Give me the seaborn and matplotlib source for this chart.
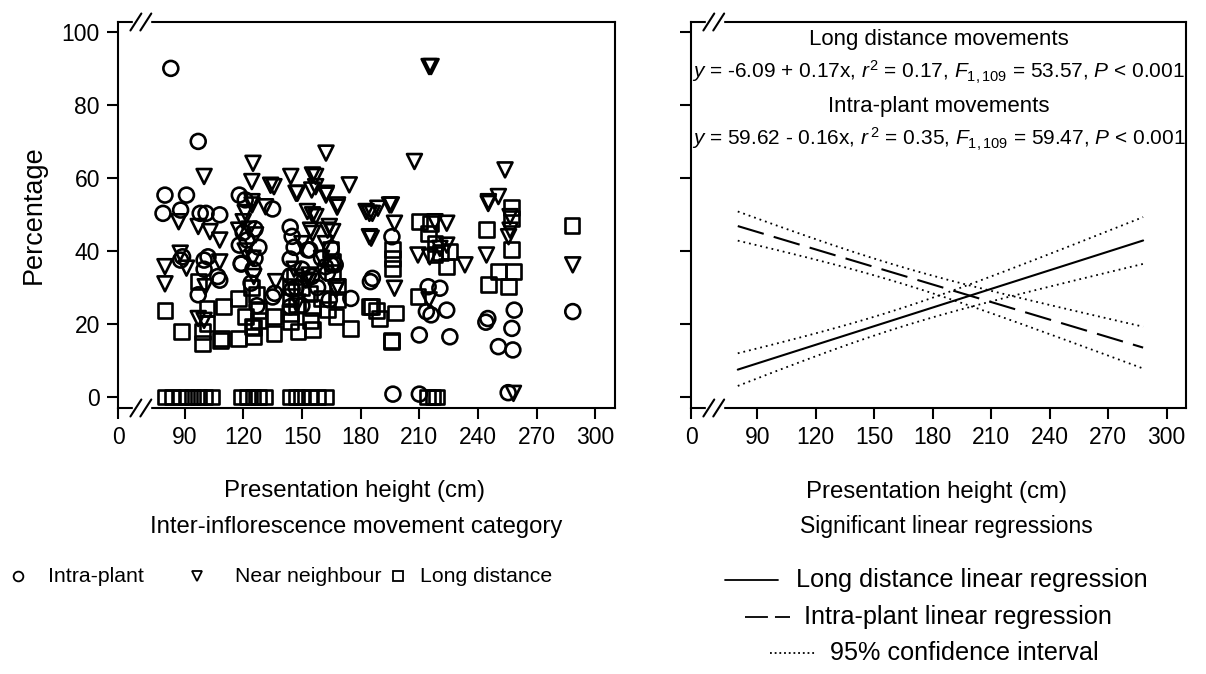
import numpy as np
import pandas as pd
import matplotlib
matplotlib.use("Agg")
import matplotlib.pyplot as plt
from matplotlib.lines import Line2D
import seaborn as sns

# ---------------------------------------------------------------- data
# Intra-plant movements (% of movements) against presentation height (cm)
intra_x = [83, 97, 80, 91, 79, 88, 101, 108, 118, 121, 135, 88, 100, 97, 100, 108,
           118, 119, 124, 126, 135, 144, 144, 144, 154, 155, 165, 175, 164, 98, 107,
           89, 102, 119, 144, 145, 136, 153, 165, 167, 162, 196, 185, 186, 214.5,
           220.5, 213.6, 224, 216, 210, 225.6, 245, 244, 258.5, 257.3, 250.4, 257.8,
           288.4, 196.5, 210, 255.4, 120, 122, 126, 128, 145, 146, 150, 160, 163, 147,
           158, 125, 127, 150]
intra_y = [90, 70, 55.3, 55.3, 50.3, 51.2, 50.3, 49.9, 55.3, 54, 51.5, 37.5, 37.5,
           28, 35, 32, 41.6, 36.4, 31.2, 38, 27.4, 46.5, 37.8, 33.2, 40.3, 33, 36.2,
           27, 26.6, 50.3, 33, 38.4, 38.4, 36.6, 24.7, 29.5, 28.4, 40.3, 40.7, 36.2,
           35.7, 43.9, 31.6, 32.5, 30.2, 29.8, 23.4, 23.8, 22.5, 17, 16.5, 21.5, 20.5,
           23.8, 18.8, 13.8, 12.9, 23.4, 0.8, 0.8, 1.2, 45, 43, 46, 41, 44, 41, 35,
           38, 34, 30, 30, 35, 25, 25]

# Near-neighbour movements
near_x = [215, 216, 125, 100, 124.4, 135.7, 144.3, 147, 157, 155, 162.3, 155.4, 157,
          162.3, 174.2, 168.2, 182.8, 188.8, 194.8, 207.5, 245.3, 250.4, 253.8, 80,
          80, 87.8, 91, 87, 97, 103, 108, 108, 97, 100, 100.6, 117.7, 126.3, 131.4,
          124.5, 155.4, 168, 165.7, 164, 155.4, 167.4, 152, 136.6, 184.5, 184.5, 186,
          195.7, 185.4, 197.3, 197.3, 224, 218, 209.3, 215.3, 220.5, 224, 215, 233.3,
          244.3, 245.2, 256.4, 256.4, 255.6, 258.1, 288.4, 124.5, 134, 120, 123,
          121, 147.7, 162.5, 152.8, 157.1, 154.4, 163.1, 153.7, 153.7, 125.4, 168.2,
          121, 125, 146, 150, 160, 162, 148]
near_y = [90.5, 90.5, 64, 60.4, 59, 57.6, 60.4, 55.8, 60.4, 56.7, 66.8, 60.8, 57.6,
          55.3, 58.1, 52.6, 50.8, 51.7, 52.6, 64.5, 53.5, 54.9, 62.2, 35.7, 31, 39.4,
          35.3, 48, 46.7, 45.3, 43, 37, 21.5, 21, 30.2, 45.7, 44.4, 52.1, 52.6, 49.9,
          52, 45.3, 46.7, 44.8, 29.3, 32, 31.6, 50.3, 43.9, 50.3, 52.6, 43.5, 47.6,
          29.8, 47.6, 48, 38.9, 38.4, 40.7, 41.6, 26.6, 36.2, 38.9, 53, 49.4, 45.7,
          43.9, 1, 36.2, 53.5, 58, 48, 46, 50.5, 55.8, 55.8, 50.8, 49.4, 45.7, 45.7,
          33.4, 31.6, 33, 30.2, 40, 38, 35, 42, 38, 42, 26]

# Long-distance movements
long_x = [80, 84, 88, 91, 94, 97, 100, 104, 119, 122, 125, 128, 131, 144, 147, 150,
          154, 158, 162, 214, 217, 219, 80, 88.6, 97, 101.5, 99, 99, 110, 109, 117.7,
          117.7, 125.4, 128, 135.7, 135.7, 125.4, 128, 144.3, 144.3, 144.3, 147,
          155.4, 155.4, 167.4, 168, 175, 165.7, 165.7, 184.5, 185.4, 188, 189.6, 198,
          196, 196.5, 196.5, 196.5, 209.3, 214.5, 210.2, 224, 225.6, 244.4, 245.2,
          250.4, 257.2, 257.2, 257.2, 255.5, 258.1, 288, 215.5, 218, 218, 221, 101.5,
          108.3, 124.5, 144.3, 154.4, 153.7, 164.8, 168.2, 195.7, 121, 124, 127, 146,
          150, 160, 163, 148]
long_y = [0, 0, 0, 0, 0, 0, 0, 0, 0, 0, 0, 0, 0, 0, 0, 0, 0, 0, 0, 0, 0, 0, 23.8,
          17.9, 31.6, 24.3, 14.7, 17.9, 24.7, 16, 16, 27, 16.5, 23.8, 22, 17.4, 19,
          21, 30.2, 27.5, 20.6, 25.2, 18.4, 24.5, 22, 26.6, 18.8, 37, 34, 24.7, 24.7,
          23.8, 21.5, 23, 15.2, 40.3, 38, 35.3, 27.5, 44.8, 48, 35.7, 39.8, 45.9, 30.7,
          34.3, 52, 49, 40.3, 30.2, 34.3, 47, 47.5, 42, 39, 39.5, 20.2, 15.6, 19.3,
          22.9, 21, 28.4, 40.3, 30.2, 15.6, 22, 30, 28, 33, 30, 27, 24, 18]

categories = ["Intra-plant", "Near neighbour", "Long distance"]
category_markers = {"Intra-plant": "o", "Near neighbour": "v", "Long distance": "s"}

# Fitted regressions (intercept, slope) and their summary statistics
ld_fit = (-6.09, 0.17)
ld_F = 53.57
ip_fit = (59.62, -0.16)
ip_F = 59.47
fit_range = (80, 288)          # span of presentation heights
height_mean, height_sd = 160, 55
t_crit = 1.982                 # t(0.975, 109)

ld_label = r"$y$ = -6.09 + 0.17x, $r^{2}$ = 0.17, $F_{1,109}$ = 53.57, $P$ < 0.001"
ip_label = r"$y$ = 59.62 - 0.16x, $r^{\,2}$ = 0.35, $F_{1,109}$ = 59.47, $P$ < 0.001"

x_tick_values = [56, 90, 120, 150, 180, 210, 240, 270, 300]
x_tick_labels = ["0", "90", "120", "150", "180", "210", "240", "270", "300"]
y_ticks = [0, 20, 40, 60, 80, 100]

# ---------------------------------------------------------------- style
sns.set_theme(style="ticks")
plt.rcParams["font.family"] = ["Liberation Sans", "DejaVu Sans"]
plt.rcParams["mathtext.fontset"] = "custom"
plt.rcParams["mathtext.rm"] = "Liberation Sans"
plt.rcParams["mathtext.it"] = "Liberation Sans:italic"
plt.rcParams["mathtext.bf"] = "Liberation Sans:bold"
for key in ("text.color", "axes.labelcolor", "xtick.color", "ytick.color",
            "axes.edgecolor"):
    plt.rcParams[key] = "black"

W, H = 1206, 674
fig = plt.figure(figsize=(W / 100, H / 100), dpi=100)


def fx(px):
    return px / W


def fy(py):
    return 1 - py / H


ax_l = fig.add_axes([fx(118), fy(408), fx(615 - 118), (408 - 22) / H])
ax_r = fig.add_axes([fx(691), fy(408), fx(1186 - 691), (408 - 22) / H])

frames = []
for cat, xs, ys in zip(categories, [intra_x, near_x, long_x], [intra_y, near_y, long_y]):
    frames.append(pd.DataFrame({"height": xs, "pct": ys, "category": cat}))
df = pd.concat(frames, ignore_index=True)

for cat in categories:
    sub = df[df["category"] == cat]
    sns.scatterplot(data=sub, x="height", y="pct", marker=category_markers[cat],
                    s=115, facecolor="none", edgecolor="black", linewidth=1.9,
                    legend=False, ax=ax_l, zorder=3)

# Regression lines with 95% confidence bands
xg = np.linspace(fit_range[0], fit_range[1], 200)
for (b0, b1), F, dash in [(ld_fit, ld_F, ""), (ip_fit, ip_F, (13, 5))]:
    yhat = b0 + b1 * xg
    se_b = abs(b1) / np.sqrt(F)
    half = t_crit * se_b * np.sqrt(height_sd ** 2 + (xg - height_mean) ** 2)
    line_df = pd.DataFrame({"height": xg, "fit": yhat, "lo": yhat - half, "hi": yhat + half})
    sns.lineplot(data=line_df, x="height", y="fit", color="black", lw=1.5,
                 ax=ax_r, legend=False)
    if dash:
        ax_r.lines[-1].set_dashes(dash)
    for col in ("lo", "hi"):
        sns.lineplot(data=line_df, x="height", y=col, color="black", lw=1.3,
                     ax=ax_r, legend=False)
        ax_r.lines[-1].set_dashes((1, 2.2))

for ax in (ax_l, ax_r):
    ax.set_xlim(56, 310)
    ax.set_ylim(-3, 102.7)
    ax.set_xticks(x_tick_values)
    ax.set_yticks(y_ticks)
    ax.set_xlabel("")
    ax.set_ylabel("")
    for sp in ax.spines.values():
        sp.set_visible(True)
        sp.set_linewidth(1.5)
        sp.set_color("black")
    ax.tick_params(direction="out", length=8, width=1.5, colors="black",
                   labelsize=16.5, pad=5)
    ax.set_xticklabels(x_tick_labels)
    # axis-break marks on the top and bottom spines
    for yb, y0, y1 in [(1.0, -0.022, 0.022), (0.0, -0.022, 0.022)]:
        ax.add_patch(plt.Rectangle((0.03, yb - 0.006), 0.035, 0.012, transform=ax.transAxes,
                                   color="white", clip_on=False, zorder=5))
        for x0 in (0.025, 0.045):
            ax.add_line(Line2D([x0, x0 + 0.022], [yb + y0, yb + y1], transform=ax.transAxes,
                               color="black", lw=1.5, clip_on=False, zorder=6))

ax_l.set_yticklabels([str(v) for v in y_ticks])
ax_r.set_yticklabels([])
ax_l.set_ylabel("Percentage", fontsize=19.5, labelpad=11)

# Regression statistics
ax_r.text(0.5, 0.955, "Long distance movements", transform=ax_r.transAxes,
          ha="center", va="center", fontsize=16)
ax_r.text(0.5, 0.87, ld_label, transform=ax_r.transAxes, ha="center", va="center",
          fontsize=15)
ax_r.text(0.5, 0.78, "Intra-plant movements", transform=ax_r.transAxes,
          ha="center", va="center", fontsize=16)
ax_r.text(0.5, 0.695, ip_label, transform=ax_r.transAxes, ha="center", va="center",
          fontsize=15)

# Axis titles and legend captions below the panels
fig.text(fx(354), fy(491), "Presentation height (cm)", ha="center", va="center", fontsize=17.3)
fig.text(fx(936), fy(492), "Presentation height (cm)", ha="center", va="center", fontsize=17.3)
fig.text(fx(356), fy(527), "Inter-inflorescence movement category", ha="center",
         va="center", fontsize=17.2)
fig.text(fx(946), fy(527), "Significant linear regressions", ha="center",
         va="center", fontsize=16.5)

# Scatter legend
for cat, mx, tx in zip(categories, [18, 197, 398], [48, 235, 420]):
    fig.add_artist(Line2D([fx(mx)], [fy(576)], marker=category_markers[cat], ms=7,
                          mfc="none", mec="black", mew=1.3, ls="none",
                          transform=fig.transFigure))
    fig.text(fx(tx), fy(576), cat, ha="left", va="center", fontsize=15.3)

# Line legend
legend_rows = [("Long distance linear regression", 725, 778, 796, 580, None),
               ("Intra-plant linear regression", 745, 790, 804, 617, (12.7, 3.9)),
               ("95% confidence interval", 770, 815, 830, 653, (1, 1.6))]
for text, x0, x1, tx, yy, dash in legend_rows:
    ln = Line2D([fx(x0), fx(x1)], [fy(yy), fy(yy)], color="black", lw=1.3,
                transform=fig.transFigure)
    if dash:
        ln.set_dashes(dash)
    fig.add_artist(ln)
    fig.text(fx(tx), fy(yy), text, ha="left", va="center", fontsize=18.2)

fig.savefig("out.png", dpi=100, facecolor="white")
